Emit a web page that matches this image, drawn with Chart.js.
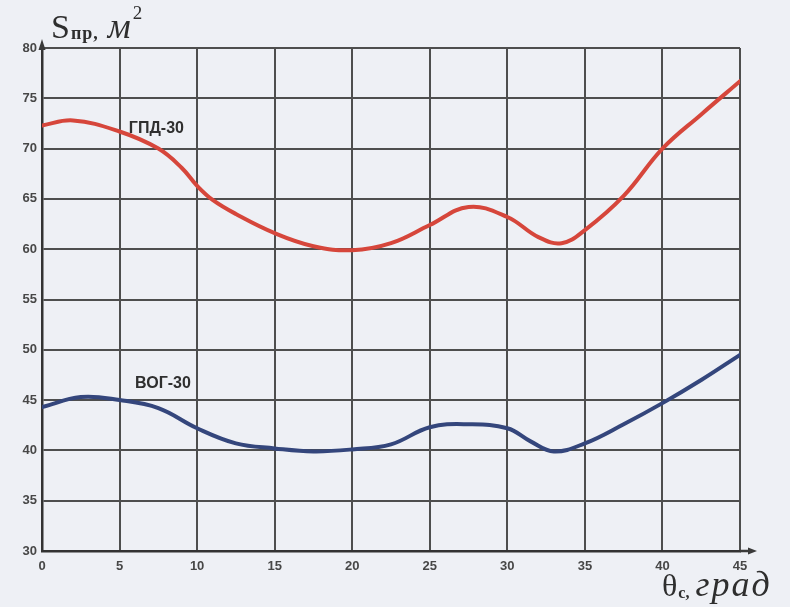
<!DOCTYPE html>
<html>
<head>
<meta charset="utf-8">
<script src="https://cdn.jsdelivr.net/npm/chart.js@4/dist/chart.umd.min.js"></script>
<style>
  html, body { margin: 0; padding: 0; background: #eef0f5; }
  #wrap { width: 790px; height: 607px; position: relative; }
</style>
</head>
<body>
<div id="wrap"><canvas id="c" width="790" height="607"></canvas></div>
<script>
// Angle of the target (degrees) and effective area (m²) for each missile type
const angleGPD = [0, 2, 5, 7.5, 9, 10, 11, 12.5, 15, 17.5, 20, 22.5, 25, 27.5, 30, 32, 33.5, 35, 37.5, 40, 42.5, 45];
const areaGPD  = [72.3, 72.8, 71.7, 70.0, 68.1, 66.3, 64.9, 63.5, 61.6, 60.3, 59.9, 60.6, 62.4, 64.2, 63.2, 61.2, 60.6, 61.9, 65.3, 70.0, 73.4, 76.7];

const angleVOG = [0, 2.5, 5, 7.5, 10, 12.5, 15, 17.5, 20, 22.5, 25, 27.5, 30, 31.5, 33, 35, 37.5, 40, 42.5, 45];
const areaVOG  = [44.3, 45.3, 45.0, 44.2, 42.2, 40.7, 40.2, 39.9, 40.1, 40.6, 42.3, 42.6, 42.2, 40.9, 39.9, 40.7, 42.6, 44.7, 47.0, 49.5];

const xTicks = [0, 5, 10, 15, 20, 25, 30, 35, 40, 45];
const yTicks = [30, 35, 40, 45, 50, 55, 60, 65, 70, 75, 80];

const seriesNames = ['ГПД-30', 'ВОГ-30'];

const toPoints = (xs, ys) => xs.map((x, i) => ({ x, y: ys[i] }));

const SERIF = '"Liberation Serif", "DejaVu Serif", serif';

// Axis titles, arrows and curve captions
const decorations = {
  id: 'decorations',
  afterDraw(chart) {
    const { ctx, chartArea: a, scales } = chart;
    const xs = scales.x, ys = scales.y;
    ctx.save();
    ctx.fillStyle = '#3a3a3a';
    ctx.strokeStyle = '#3a3a3a';

    // arrow on vertical axis
    ctx.beginPath();
    ctx.moveTo(a.left - 3.5, a.top + 2);
    ctx.lineTo(a.left, a.top - 9);
    ctx.lineTo(a.left + 3.5, a.top + 2);
    ctx.closePath();
    ctx.fill();

    // horizontal axis extends past the last grid line with an arrow
    ctx.lineWidth = 2.5;
    ctx.beginPath();
    ctx.moveTo(a.right, a.bottom);
    ctx.lineTo(a.right + 10, a.bottom);
    ctx.stroke();
    ctx.beginPath();
    ctx.moveTo(a.right + 8, a.bottom - 3.5);
    ctx.lineTo(a.right + 17, a.bottom);
    ctx.lineTo(a.right + 8, a.bottom + 3.5);
    ctx.closePath();
    ctx.fill();

    // y-axis title: S_пр, м²
    ctx.fillStyle = '#2e2e2e';
    ctx.textBaseline = 'alphabetic';
    ctx.textAlign = 'left';
    let x = 51, base = 38;
    ctx.font = '34px ' + SERIF;
    ctx.fillText('S', x, base);
    x += ctx.measureText('S').width + 1;
    ctx.font = 'bold 18px ' + SERIF;
    ctx.letterSpacing = '1px';
    ctx.fillText('пр,', x, base + 1);
    x += ctx.measureText('пр,').width + 9;
    ctx.letterSpacing = '0px';
    ctx.font = 'italic 36px ' + SERIF;
    ctx.fillText('м', x, base);
    x += ctx.measureText('м').width + 2;
    ctx.font = '19px ' + SERIF;
    ctx.fillText('2', x, base - 19);

    // x-axis title: θ_c, град
    x = 662; base = 596;
    ctx.font = '32px ' + SERIF;
    ctx.fillText('θ', x, base);
    x += ctx.measureText('θ').width + 1;
    ctx.font = 'bold 16px ' + SERIF;
    ctx.fillText('c,', x, base + 2);
    x += ctx.measureText('c,').width + 6;
    ctx.font = 'italic 36px ' + SERIF;
    ctx.letterSpacing = '2px';
    ctx.fillText('град', x, base);
    ctx.letterSpacing = '0px';

    // curve captions
    ctx.font = 'bold 16px "Liberation Sans", Arial, sans-serif';
    ctx.fillStyle = '#2f2f2f';
    ctx.textBaseline = 'middle';
    ctx.fillText(seriesNames[0], xs.getPixelForValue(5.6), ys.getPixelForValue(72.0));
    ctx.fillText(seriesNames[1], xs.getPixelForValue(6.0), ys.getPixelForValue(46.6));
    ctx.restore();
  }
};

const lineStyle = {
  borderWidth: 4,
  pointRadius: 0,
  tension: 0.4,
  borderCapStyle: 'round',
  borderJoinStyle: 'round'
};

new Chart(document.getElementById('c'), {
  type: 'line',
  data: {
    datasets: [
      Object.assign({
        label: seriesNames[0],
        data: toPoints(angleGPD, areaGPD),
        borderColor: '#d6463b'
      }, lineStyle),
      Object.assign({
        label: seriesNames[1],
        data: toPoints(angleVOG, areaVOG),
        borderColor: '#34467c'
      }, lineStyle)
    ]
  },
  options: {
    responsive: false,
    animation: false,
    events: [],
    layout: { padding: { left: 0, right: 50, top: 48, bottom: 0 } },
    plugins: { legend: { display: false }, tooltip: { enabled: false }, title: { display: false } },
    scales: {
      x: {
        type: 'linear',
        min: 0, max: 45,
        afterBuildTicks: s => { s.ticks = xTicks.map(v => ({ value: v })); },
        afterFit: s => { s.height = 56; },
        grid: { color: '#4e4e4e', lineWidth: 2, drawTicks: false },
        border: { color: '#333', width: 2.5 },
        ticks: {
          padding: 8,
          color: '#474747',
          font: { family: '"Liberation Sans", Arial, sans-serif', size: 13, weight: 'bold' }
        }
      },
      y: {
        type: 'linear',
        min: 30, max: 80,
        afterBuildTicks: s => { s.ticks = yTicks.map(v => ({ value: v })); },
        afterFit: s => { s.width = 42; },
        grid: { color: '#4e4e4e', lineWidth: 2, drawTicks: false },
        border: { color: '#333', width: 2.5 },
        ticks: {
          padding: 5,
          color: '#474747',
          font: { family: '"Liberation Sans", Arial, sans-serif', size: 13, weight: 'bold' }
        }
      }
    }
  },
  plugins: [decorations]
});
</script>
</body>
</html>
